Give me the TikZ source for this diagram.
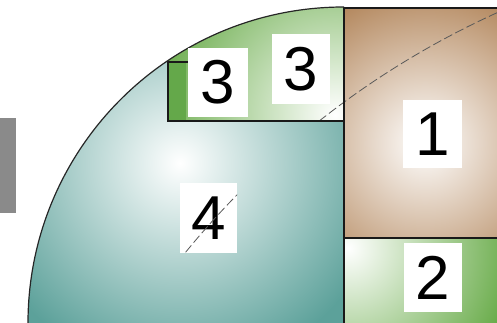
\documentclass[tikz,border=0pt]{standalone}
\usepackage{fontspec}
\setmainfont{Liberation Sans}
\definecolor{graybar}{HTML}{8A8A8A}
\definecolor{brownc}{HTML}{B08256}
\definecolor{tealc}{HTML}{5CA19A}
\definecolor{greenc}{HTML}{66AA46}
\definecolor{greendark}{HTML}{64A84A}
\begin{document}
\begin{tikzpicture}[x=1pt,y=1pt,
  edge/.style={draw=black!90, line width=1.6pt},
  arcline/.style={draw=black!85, line width=1.2pt},
  numbox/.style={fill=white, inner sep=0pt, font=\fontsize{62}{62}\selectfont},
  spiral/.style={draw=black!65, line width=0.8pt, dash pattern=on 9pt off 3.5pt}]
\useasboundingbox (0,0) rectangle (497,323);
% grey bar
\fill[graybar] (0,110) rectangle (16,205);
% brown square (1)
\begin{scope}
  \clip (344,85) rectangle (497,315);
  \fill[brownc] (344,85) rectangle (497,315);
  \shade[inner color=white, outer color=brownc] (425,180) circle (165);
\end{scope}
% green band (2)
\begin{scope}
  \clip (344,0) rectangle (497,85);
  \fill[greenc] (344,0) rectangle (497,85);
  \shade[inner color=white, outer color=greenc] (348,75) circle (170);
\end{scope}
% green region (3)
\begin{scope}
  \clip (168,202) -- (168,262.4) arc[start angle=123.85, end angle=90, radius=316] -- (344,202) -- cycle;
  \fill[greenc] (160,190) rectangle (350,330);
  \shade[inner color=white, outer color=greenc] (335,208) circle (190);
\end{scope}
\fill[greendark] (169,202) rectangle (186,261);
% dashed spiral curve
\draw[spiral] (853.5,-475.3) ++(114.4:862.7) arc[start angle=114.4, end angle=141, radius=862.7];
% teal quarter disc (4)
\begin{scope}
  \clip (28,0) arc[start angle=180, end angle=123.85, radius=316] -- (168,202) -- (344,202) -- (344,0) -- cycle;
  \fill[tealc] (20,0) rectangle (344,270);
  \shade[inner color=white, outer color=tealc] (180,160) circle (210);
\end{scope}
% outlines
\draw[edge] (168,262.4) -- (168,202) -- (344,202);
\draw[edge] (168,261) -- (190,261);
\draw[edge] (344,0) -- (344,315) -- (497,315);
\draw[edge] (344,85) -- (497,85);
\draw[arcline] (28,0) arc[start angle=180, end angle=90, radius=316];
% labels
\node[numbox, minimum width=60, minimum height=69] (n3a) at (218,240.5) {3};
\node[numbox, minimum width=58, minimum height=70] (n3b) at (301,254) {3};
\node[numbox, minimum width=59, minimum height=68] (n1) at (432.5,189) {1};
\node[numbox, minimum width=58, minimum height=69] (n2) at (433,45.5) {2};
\node[numbox, minimum width=57, minimum height=70] (n4) at (208.5,105) {4};
\begin{scope}
  \clip (n4.south west) rectangle (n4.north east);
  \draw[spiral] (853.5,-475.3) ++(114.4:862.7) arc[start angle=114.4, end angle=141, radius=862.7];
\end{scope}
\end{tikzpicture}
\end{document}
